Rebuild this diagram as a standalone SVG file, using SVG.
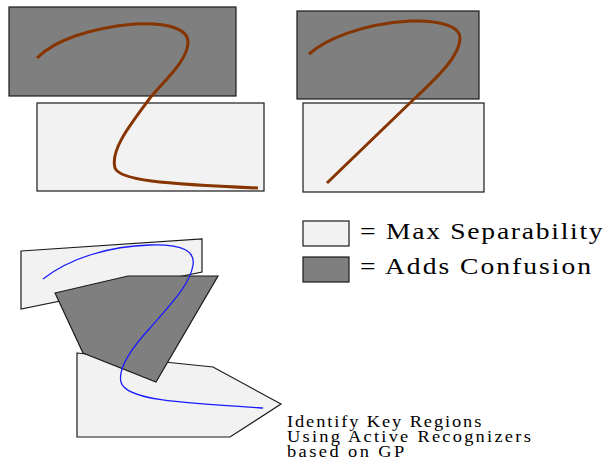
<svg xmlns="http://www.w3.org/2000/svg" width="606" height="464" viewBox="0 0 606 464">
  <style>
    .confuse { fill: #7f7f7f; stroke: #1a1a1a; stroke-width: 1.2; }
    .separate { fill: #f2f2f2; stroke: #1a1a1a; stroke-width: 1.2; }
    .stroke-brown { fill: none; stroke: #863400; stroke-width: 3; stroke-linecap: butt; }
    .stroke-blue { fill: none; stroke: #1a1aff; stroke-width: 1.3; }
    .legend-text { font-family: "Liberation Serif", "Times New Roman", serif; font-size: 24px; fill: #000; }
    .note-text { font-family: "Liberation Serif", "Times New Roman", serif; font-size: 16px; fill: #000; }
  </style>

  <!-- Top-left: gesture crossing two rectangular regions -->
  <g id="example-a">
    <rect class="confuse" x="9" y="7" width="227" height="89"/>
    <rect class="separate" x="37" y="103" width="227" height="88"/>
    <path class="stroke-brown" d="M37,58 C55,40 90,28 135,24 C170,22 188,30 188,42 C188,60 165,80 150,98 C130,125 110,150 115,168 C120,180 160,184 258,188"/>
  </g>

  <!-- Top-right: second gesture over the same kind of regions -->
  <g id="example-b">
    <rect class="confuse" x="297" y="11" width="182" height="88"/>
    <rect class="separate" x="303" y="103" width="181" height="89"/>
    <path class="stroke-brown" d="M309,54 C325,40 360,24 410,21 C445,20 460,28 460,38 C460,55 440,75 413,100 L327,183"/>
  </g>

  <!-- Legend (text widened slightly with a horizontal scale) -->
  <g id="legend-separability">
    <rect class="separate" x="303" y="221" width="46" height="25"/>
    <text class="legend-text" transform="translate(360,239) scale(1.15,1)" textLength="211" lengthAdjust="spacing">= Max Separability</text>
  </g>
  <g id="legend-confusion">
    <rect class="confuse" x="303" y="257" width="46" height="25"/>
    <text class="legend-text" transform="translate(360,274) scale(1.15,1)" textLength="201" lengthAdjust="spacing">= Adds Confusion</text>
  </g>

  <!-- Bottom-left: irregular key regions found by the recognizers -->
  <g id="regions">
    <polygon id="region-top" class="separate" points="21,251 202,239 202,272 21,309"/>
    <polygon id="region-bottom" class="separate" points="77,353 213,367 281,404 230,437 77,437"/>
    <polygon id="region-middle" class="confuse" points="55,293 128,276 218,276 156,382 83,353"/>
    <path class="stroke-blue" d="M43,279 C70,258 110,246 150,245 C185,244 195,252 193,265 C190,285 170,305 150,328 C128,352 118,370 121,382 C125,400 180,403 263,408"/>
  </g>

  <g id="caption">
    <text class="note-text" transform="translate(287,427) scale(1.15,1)" textLength="169" lengthAdjust="spacing">Identify Key Regions</text>
    <text class="note-text" transform="translate(287,442) scale(1.15,1)" textLength="212" lengthAdjust="spacing">Using Active Recognizers</text>
    <text class="note-text" transform="translate(287,457) scale(1.15,1)" textLength="102" lengthAdjust="spacing">based on GP</text>
  </g>
</svg>
